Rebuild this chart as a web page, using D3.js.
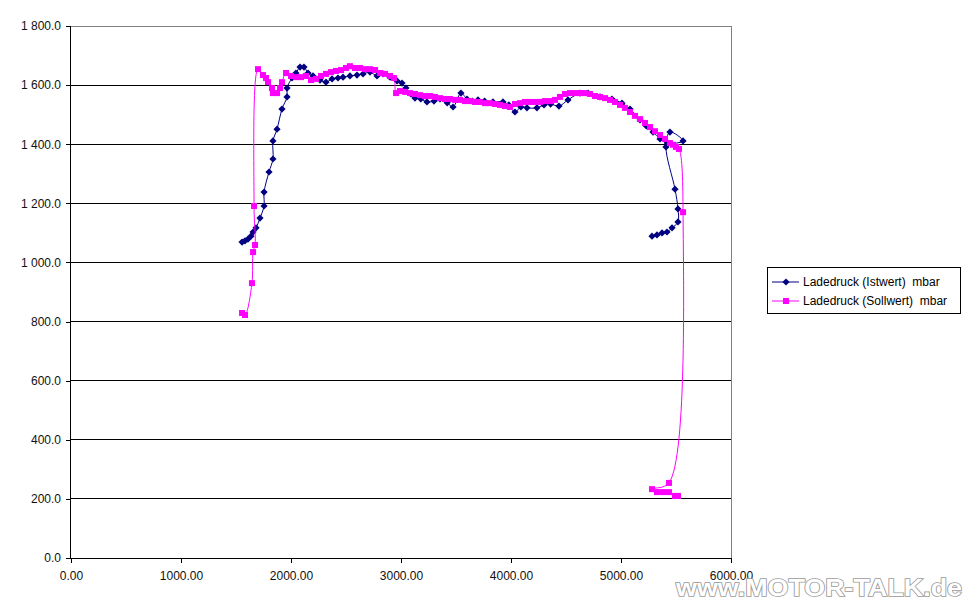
<!DOCTYPE html>
<html><head><meta charset="utf-8">
<script src="https://cdn.jsdelivr.net/npm/d3@7"></script>
<style>body{margin:0;background:#fff}svg{display:block}text{font-family:"Liberation Sans",Arial,sans-serif}</style>
</head><body>
<svg id="c" width="970" height="604"></svg>
<script>
// ---- data (rpm, mbar) ----
const seriesNames = ["Ladedruck (Istwert)  mbar", "Ladedruck (Sollwert)  mbar"];
const istRpm = [1555,1582,1609,1636,1655,1682,1718,1755,1755,1800,1836,1836,1873,1918,1964,1964,2009,2045,2082,2118,2155,2200,2264,2318,2373,2427,2473,2536,2600,2655,2718,2782,2836,2900,2964,3009,3045,3090,3127,3180,3236,3300,3355,3420,3473,3545,3600,3650,3700,3760,3836,3927,3980,4036,4090,4145,4236,4300,4360,4436,4518,4627,4700,4809,4918,5009,5082,5173,5230,5291,5355,5420,5564,5445,5409,5491,5518,5518,5464,5418,5373,5327,5282];
const istVal = [1069,1073,1079,1089,1103,1117,1150,1191,1238,1306,1350,1411,1451,1519,1560,1590,1624,1641,1661,1661,1641,1631,1617,1610,1621,1624,1627,1631,1634,1638,1644,1631,1638,1627,1614,1607,1590,1570,1556,1553,1543,1546,1553,1540,1526,1573,1553,1546,1550,1546,1543,1543,1533,1509,1526,1523,1523,1533,1536,1529,1550,1573,1573,1560,1553,1539,1519,1482,1462,1441,1418,1404,1411,1441,1391,1248,1181,1137,1117,1103,1100,1093,1089];
const sollRpm = [1555,1582,1645,1655,1673,1664,1700,1745,1773,1791,1827,1836,1873,1900,1918,1955,2000,2045,2091,2136,2182,2227,2273,2318,2364,2409,2455,2500,2536,2582,2627,2673,2718,2764,2809,2855,2900,2936,2955,2991,3036,3082,3127,3173,3218,3264,3309,3355,3400,3445,3491,3536,3582,3627,3673,3718,3764,3809,3855,3900,3945,3991,4036,4082,4127,4173,4218,4264,4309,4355,4400,4445,4491,4536,4582,4627,4673,4718,4764,4809,4855,4900,4945,4991,5036,5082,5127,5173,5218,5264,5309,5355,5400,5445,5473,5500,5527,5564,5436,5282,5327,5382,5436,5491,5518];
const sollVal = [829,822,930,1035,1059,1191,1654,1634,1624,1610,1590,1573,1573,1590,1610,1641,1631,1627,1627,1631,1617,1621,1631,1638,1644,1648,1651,1658,1664,1658,1658,1654,1654,1651,1641,1638,1631,1624,1573,1580,1577,1573,1570,1566,1563,1563,1560,1556,1553,1553,1550,1550,1546,1546,1543,1543,1539,1539,1536,1533,1529,1526,1536,1539,1543,1543,1543,1543,1546,1546,1550,1560,1570,1573,1573,1573,1573,1570,1563,1560,1556,1550,1543,1533,1523,1509,1496,1485,1472,1458,1444,1431,1418,1404,1398,1391,1384,1170,254,233,223,223,223,210,210];
const xTicks = [0,1000,2000,3000,4000,5000,6000];
const yTicks = [0,200,400,600,800,1000,1200,1400,1600,1800];
const colors = ["#000080", "#ff00ff"];

const svg = d3.select("#c");
const x = d3.scaleLinear().domain([0,6000]).range([71,731]);
const y = d3.scaleLinear().domain([0,1800]).range([558,26]);
const loc = d3.formatLocale({decimal:".", thousands:" ", grouping:[3], currency:["",""]});
const yFmt = loc.format(",.1f");
const xFmt = d3.format(".2f");

// gridlines
svg.append("g").selectAll("line").data(yTicks.filter(d=>d>0 && d<1800)).join("line")
  .attr("x1",x(0)).attr("x2",x(6000)).attr("y1",d=>y(d)).attr("y2",d=>y(d))
  .attr("stroke","#000").attr("stroke-width",1).attr("shape-rendering","crispEdges");
// plot border (top/right)
svg.append("path").attr("d",`M${x(0)},${y(1800)}H${x(6000)}V${y(0)}`)
  .attr("fill","none").attr("stroke","#808080").attr("shape-rendering","crispEdges");

// axes
const ya = svg.append("g").attr("transform",`translate(${x(0)},0)`)
  .call(d3.axisLeft(y).tickValues(yTicks).tickFormat(yFmt).tickSize(5).tickPadding(5));
const xa = svg.append("g").attr("transform",`translate(0,${y(0)})`)
  .call(d3.axisBottom(x).tickValues(xTicks).tickFormat(xFmt).tickSize(5).tickPadding(8));
[ya,xa].forEach(a=>{
  a.select(".domain").attr("stroke","#000").attr("shape-rendering","crispEdges");
  a.selectAll(".tick line").attr("stroke","#000").attr("shape-rendering","crispEdges");
  a.selectAll("text").attr("font-size",12).attr("fill","#111").attr("font-family","Liberation Sans, Arial, sans-serif");
});
ya.select(".domain").attr("d",`M-0.5,${y(1800)}V${y(0)}`);
xa.select(".domain").attr("d",`M${x(0)},0.5H${x(6000)}`);

const line = d3.line().x(d=>x(d[0])).y(d=>y(d[1])).curve(d3.curveCatmullRom.alpha(0.5));
const ist = istRpm.map((r,i)=>[r,istVal[i]]);
const soll = sollRpm.map((r,i)=>[r,sollVal[i]]);

const diamond = s => `M0,${-s}L${s},0L0,${s}L${-s},0Z`;

// Istwert
svg.append("path").datum(ist).attr("d",line).attr("fill","none").attr("stroke",colors[0]).attr("stroke-width",1);
svg.append("g").selectAll("path").data(ist).join("path")
  .attr("transform",d=>`translate(${x(d[0])},${y(d[1])})`).attr("d",diamond(3.6)).attr("fill",colors[0]);
// Sollwert
svg.append("path").datum(soll).attr("d",line).attr("fill","none").attr("stroke",colors[1]).attr("stroke-width",1);
svg.append("g").selectAll("rect").data(soll).join("rect")
  .attr("x",d=>x(d[0])-3).attr("y",d=>y(d[1])-3).attr("width",6).attr("height",6).attr("fill",colors[1]);

// legend
const lg = svg.append("g");
lg.append("rect").attr("x",767.5).attr("y",267.5).attr("width",193).attr("height",46)
  .attr("fill","#fff").attr("stroke","#000");
seriesNames.forEach((n,i)=>{
  const cy = 282 + i*19;
  lg.append("line").attr("x1",772).attr("x2",799).attr("y1",cy).attr("y2",cy).attr("stroke",colors[i]);
  if(i===0) lg.append("path").attr("transform",`translate(786,${cy})`).attr("d",diamond(3.6)).attr("fill",colors[i]);
  else lg.append("rect").attr("x",783).attr("y",cy-3).attr("width",6).attr("height",6).attr("fill",colors[i]);
  lg.append("text").attr("x",803).attr("y",cy+4).attr("font-size",12).attr("fill","#000")
    .attr("xml:space","preserve").style("white-space","pre").text(n);
});

// watermark
svg.append("text").attr("x",676).attr("y",596).attr("font-size",24).attr("font-weight","bold")
  .attr("font-family","DejaVu Sans, sans-serif").attr("textLength",286).attr("lengthAdjust","spacingAndGlyphs")
  .attr("fill","#ffffff").attr("stroke","#9a9a9a").attr("stroke-width",1.6).attr("paint-order","stroke")
  .text("www.MOTOR-TALK.de");
</script>
</body></html>
